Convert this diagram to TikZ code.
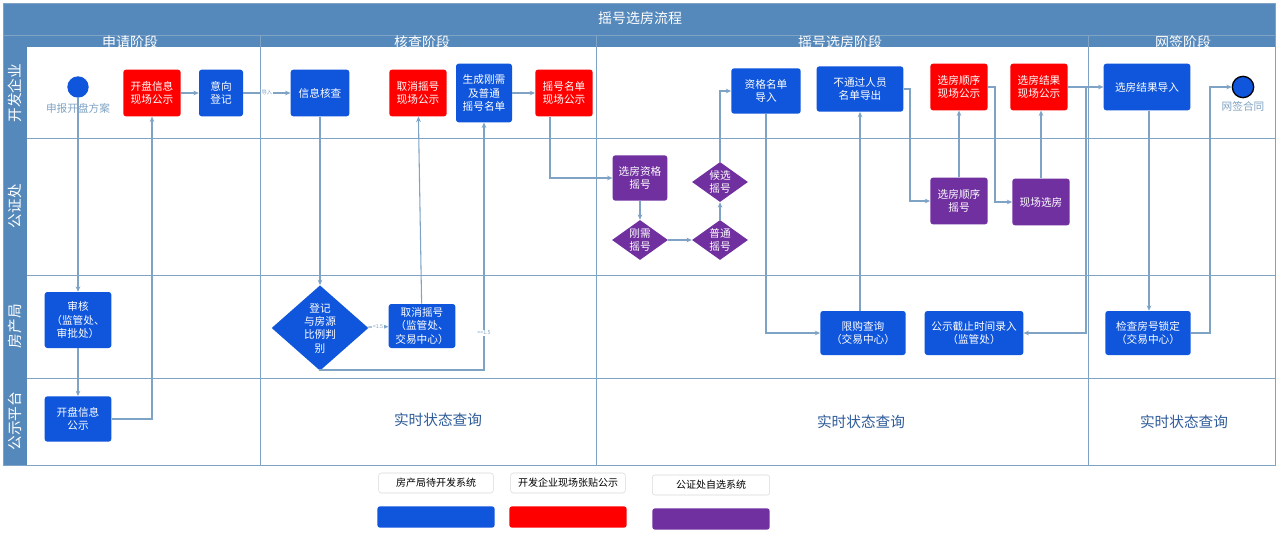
\documentclass[tikz,border=0pt]{standalone}
\usepackage{fontspec}
\setmainfont{Noto Sans CJK SC}
\usetikzlibrary{shapes.geometric,arrows.meta}
\definecolor{hdr}{HTML}{5588BB}
\definecolor{bl}{HTML}{0F56DD}
\definecolor{rd}{HTML}{FF0000}
\definecolor{pp}{HTML}{7030A0}
\definecolor{ln}{HTML}{7FA3C4}
\definecolor{tx}{HTML}{2F5C9A}
\begin{document}
\begin{tikzpicture}[x=0.75pt,y=-0.75pt,
 box/.style={rectangle,rounded corners=2pt,text=white,align=center,font=\fontsize{8}{10}\selectfont,inner sep=1pt},
 B/.style={box,fill=bl},R/.style={box,fill=rd},P/.style={box,fill=pp},
 dia/.style={diamond,aspect=1.3,text=white,align=center,font=\fontsize{8}{10}\selectfont,inner sep=0pt},
 ar/.style={draw=ln,line width=0.8pt,-{Stealth[length=4pt,width=3.5pt]}},
 lane/.style={text=white,font=\fontsize{11}{13}\selectfont,rotate=90},
 ph/.style={text=white,font=\fontsize{10.5}{12}\selectfont},
 lab/.style={font=\fontsize{4}{5}\selectfont,text=ln,fill=white,inner sep=0.5pt},
 big/.style={text=tx,font=\fontsize{11}{13}\selectfont},
 leg/.style={draw=black!15,fill=white,rounded corners=2pt,font=\fontsize{7.5}{9}\selectfont,minimum height=15pt}]
\useasboundingbox (0,0) rectangle (1280,535);
\fill[white] (0,0) rectangle (1280,535);
% frame
\fill[hdr] (3,3) rectangle (1275,47);
\fill[hdr] (3,3) rectangle (27,465);
\draw[ln,line width=0.6pt] (3,3) rectangle (1275,465);
\draw[ln,line width=0.6pt] (3,35) -- (1275,35);
\foreach \y in {138,275,378} \draw[ln,line width=0.6pt] (27,\y) -- (1275,\y);
\foreach \x in {260,596,1088} \draw[ln,line width=0.6pt] (\x,35) -- (\x,465);
\node[ph] (title) at (640,18) {摇号选房流程};
\node[ph] (p1) at (130,42) {申请阶段};
\node[ph] (p2) at (422,42) {核查阶段};
\node[ph] (p3) at (840,42) {摇号选房阶段};
\node[ph] (p4) at (1183,42) {网签阶段};
\node[lane] (l1) at (15,93) {开发企业};
\node[lane] (l2) at (15,206) {公证处};
\node[lane] (l3) at (15,326) {房产局};
\node[lane] (l4) at (15,421) {公示平台};
% nodes
\node[circle,fill=bl,minimum size=16pt,inner sep=0pt] (st) at (78,87) {};
\node[text=ln,font=\fontsize{8}{10}\selectfont] (stl) at (78,108) {申报开盘方案};
\node[R,minimum width=43pt,minimum height=35pt] (kpxx) at (152,93) {开盘信息\\现场公示};
\node[B,minimum width=33pt,minimum height=35pt] (yxdj) at (221,93) {意向\\登记};
\node[B,minimum width=44pt,minimum height=35pt] (xxhc) at (320,93) {信息核查};
\node[R,minimum width=43pt,minimum height=35pt] (qxyh) at (418,93) {取消摇号\\现场公示};
\node[B,minimum width=42pt,minimum height=44pt] (scgx) at (484,93) {生成刚需\\及普通\\摇号名单};
\node[R,minimum width=43pt,minimum height=35pt] (yhmd) at (564,93) {摇号名单\\现场公示};
\node[P,minimum width=41pt,minimum height=34pt] (xfzg) at (640,178) {选房资格\\摇号};
\node[dia,fill=pp,minimum width=42pt,minimum height=30pt] (gxyh) at (640,240) {刚需\\摇号};
\node[dia,fill=pp,minimum width=42pt,minimum height=30pt] (ptyh) at (720,240) {普通\\摇号};
\node[dia,fill=pp,minimum width=42pt,minimum height=30pt] (hxyh) at (720,182) {候选\\摇号};
\node[B,minimum width=52pt,minimum height=34pt] (zgmd) at (766,91) {资格名单\\导入};
\node[B,minimum width=65pt,minimum height=34pt] (btg) at (860,89) {不通过人员\\名单导出};
\node[R,minimum width=43pt,minimum height=35pt] (xfsx) at (959,87) {选房顺序\\现场公示};
\node[R,minimum width=43pt,minimum height=35pt] (xfjg) at (1039,87) {选房结果\\现场公示};
\node[P,minimum width=43pt,minimum height=35pt] (xfsxyh) at (959,201) {选房顺序\\摇号};
\node[P,minimum width=43pt,minimum height=35pt] (xcxf) at (1041,202) {现场选房};
\node[B,minimum width=65pt,minimum height=35pt] (xfjgdr) at (1147,87) {选房结果导入};
\node[circle,fill=bl,draw=black,line width=1pt,minimum size=16pt,inner sep=0pt] (en) at (1243,87) {};
\node[text=ln,font=\fontsize{8}{10}\selectfont] (enl) at (1243,106) {网签合同};
\node[B,minimum width=50pt,minimum height=42pt] (sh) at (78,320) {审核\\（监管处、\\审批处）};
\node[B,minimum width=50pt,minimum height=34pt] (kpgs) at (78,419) {开盘信息\\公示};
\node[dia,fill=bl,minimum width=64pt,minimum height=64pt] (dj) at (320,328) {登记\\与房源\\比例判\\别};
\node[B,minimum width=50pt,minimum height=33pt] (qx2) at (422,326) {取消摇号\\（监管处、\\交易中心）};
\node[B,minimum width=64pt,minimum height=33pt] (xgcx) at (863,333) {限购查询\\（交易中心）};
\node[B,minimum width=74pt,minimum height=33pt] (gsjz) at (974,333) {公示截止时间录入\\（监管处）};
\node[B,minimum width=64pt,minimum height=33pt] (jcfh) at (1148,333) {检查房号锁定\\（交易中心）};
\node[big] (s1) at (438,420) {实时状态查询};
\node[big] (s2) at (861,422) {实时状态查询};
\node[big] (s3) at (1184,422) {实时状态查询};
% legend
\node[leg,minimum width=86pt] (lg1) at (436,483) {房产局待开发系统};
\node[leg,minimum width=86pt] (lg2) at (568,483) {开发企业现场张贴公示};
\node[leg,minimum width=88pt] (lg3) at (711,485) {公证处自选系统};
\node[fill=bl,rounded corners=2pt,minimum width=88pt,minimum height=16pt] (c1) at (436,517) {};
\node[fill=rd,rounded corners=2pt,minimum width=88pt,minimum height=16pt] (c2) at (568,517) {};
\node[fill=pp,rounded corners=2pt,minimum width=88pt,minimum height=16pt] (c3) at (711,519) {};
% edges
\draw[ar] (st) -- (sh);
\draw[ar] (sh) -- (kpgs);
\draw[ar] (kpgs.east) -| (kpxx.south);
\draw[ar] (kpxx) -- (yxdj);
\draw[ar] (yxdj) -- node[lab]{导入} (xxhc);
\draw[ar] (xxhc) -- (dj);
\draw[ar] (dj) -- node[lab]{<1.5} (qx2);
\draw[ar] (qx2) -- (qxyh);
\draw[ar] (dj.south) -- (320,370) -| (scgx.south);
\node[lab] (ge) at (484,333) {>=1.5};
\draw[ar] (scgx) -- (yhmd);
\draw[ar] (yhmd.south -| 550,0) |- (xfzg.west);
\draw[ar] (xfzg) -- (gxyh);
\draw[ar] (gxyh) -- (ptyh);
\draw[ar] (ptyh) -- (hxyh);
\draw[ar] (hxyh.north) |- (zgmd.west);
\draw[ar] (zgmd.south) |- (xgcx.west);
\draw[ar] (xgcx.north -| btg) -- (btg.south);
\draw[ar] (btg.east) -- (910,89) |- (xfsxyh.west);
\draw[ar] (xfsxyh) -- (xfsx);
\draw[ar] (xfsx.east) -- (995,87) |- (xcxf.west);
\draw[ar] (xcxf.north) -- (xcxf.north |- xfjg.south);
\draw[ar] (xfjg) -- (xfjgdr);
\draw[ar] (1086,87) |- (gsjz.east);
\draw[ar] (xfjgdr.south -| 1149,0) -- (jcfh.north -| 1149,0);
\draw[ar] (jcfh.east) -- (1210,333) |- (en.west);
\end{tikzpicture}
\end{document}
